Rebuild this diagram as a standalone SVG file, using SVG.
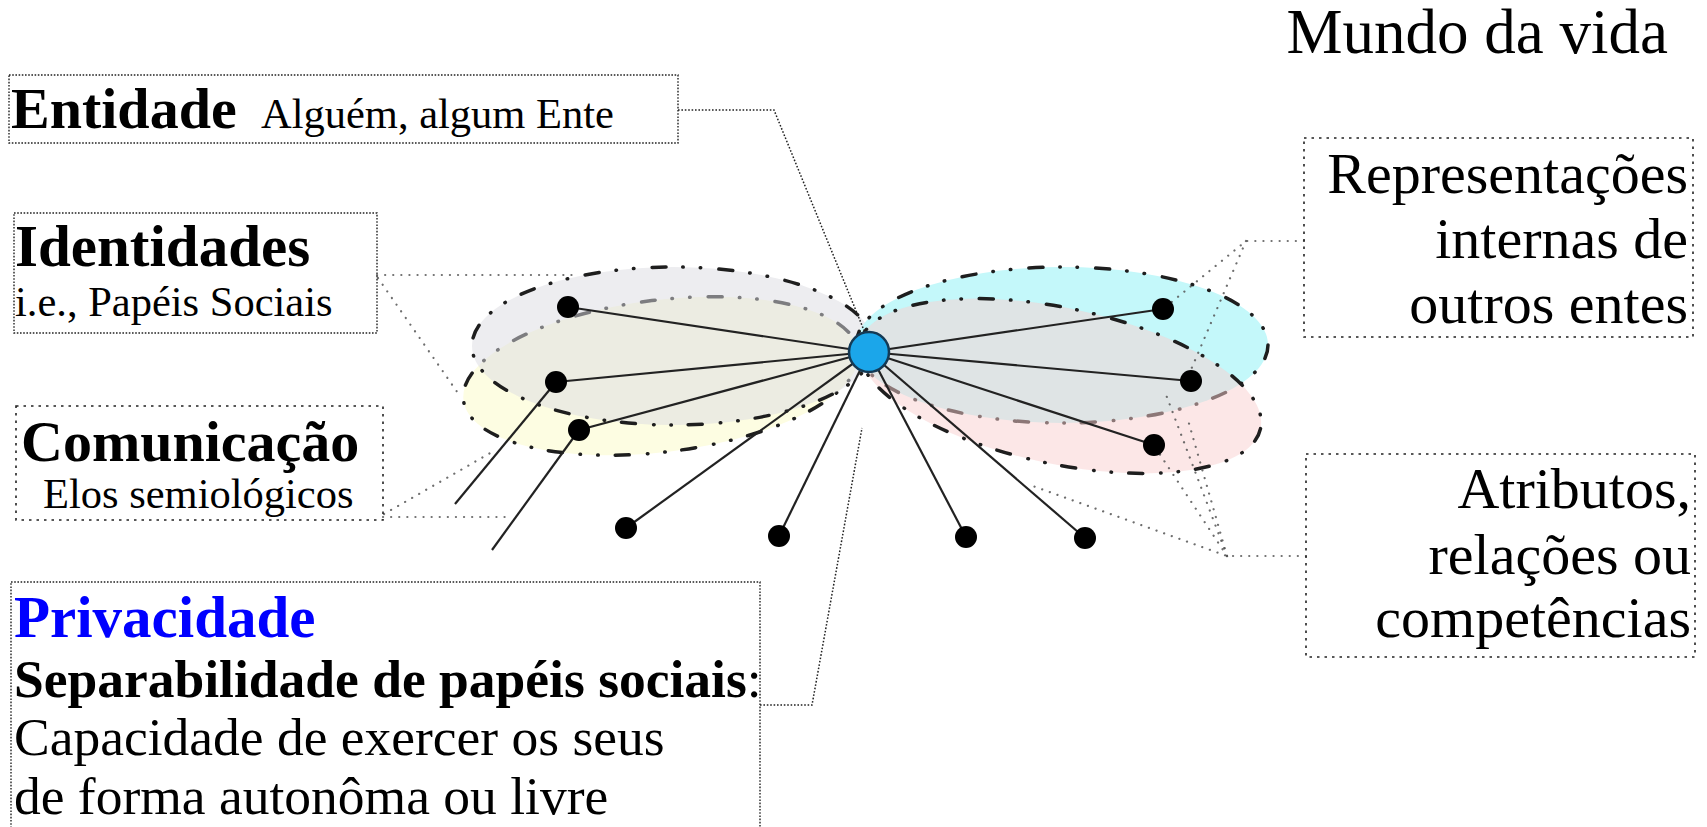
<svg xmlns="http://www.w3.org/2000/svg" width="1707" height="827" viewBox="0 0 1707 827">
  <style>
    text { font-family: "Liberation Serif", "Times New Roman", serif; fill: #000; }
    .b { font-weight: bold; }
    .t58 { font-size: 58px; }
    .t42 { font-size: 42.5px; }
    .t53 { font-size: 53.5px; }
    .box-fine { fill: none; stroke: #222; stroke-width: 1.4; stroke-dasharray: 1.6 1.6; }
    .box-wide { fill: none; stroke: #222; stroke-width: 1.6; stroke-dasharray: 2.5 5; }
    .lead-fine { fill: none; stroke: #222; stroke-width: 1.5; stroke-dasharray: 1.6 1.8; }
    .lead-soft { fill: none; stroke: #555; stroke-width: 2.2; stroke-dasharray: 0.1 8; stroke-linecap: round; opacity: 0.85; }
    .ring { stroke: #1e1e1e; stroke-width: 3.5; stroke-dasharray: 14 17 0.5 17 0.5 18; stroke-linecap: round; }
    .link { stroke: #222; stroke-width: 2.2; fill: none; }
    .dot { fill: #000; }
  </style>

  <!-- role ellipses -->
  <g id="ellipses">
    <ellipse id="ring-yellow" class="ring" cx="661" cy="376" rx="199" ry="76" transform="rotate(-7 661 376)" fill="#fdfde2"/>
    <ellipse id="ring-gray" class="ring" cx="673" cy="346" rx="201" ry="79" fill="rgb(220,220,226)" fill-opacity="0.5"/>
    <ellipse id="ring-cyan" class="ring" cx="1062" cy="345" rx="206" ry="78" fill="#c4f8fa"/>
    <ellipse id="ring-pink" class="ring" cx="1060" cy="386" rx="205" ry="78" transform="rotate(12 1060 386)" fill="rgb(250,208,208)" fill-opacity="0.5"/>
  </g>

  <!-- leader lines from the labels -->
  <g id="connectors">
    <polyline class="lead-fine" points="678,110 774,110 870,345"/>
    <polyline class="lead-fine" points="760,705 812,705 862,428"/>
    <polyline class="lead-soft" points="377,275 572,275"/>
    <polyline class="lead-soft" points="378,278 460,396"/>
    <polyline class="lead-soft" points="383,517 510,517"/>
    <polyline class="lead-soft" points="384,514 492,452"/>
    <polyline class="lead-soft" points="1304,241 1246,241 1168,305"/>
    <polyline class="lead-soft" points="1246,241 1190,372"/>
    <polyline class="lead-soft" points="1306,556 1227,556 1030,485"/>
    <polyline class="lead-soft" points="1227,556 1157,450"/>
    <polyline class="lead-soft" points="1227,556 1165,392"/>
    <polyline class="lead-soft" points="1227,556 1188,420"/>

    <!-- links from the entity to its roles -->
    <g id="links">
      <line class="link" x1="869" y1="352" x2="568" y2="307"/>
      <line class="link" x1="869" y1="352" x2="556" y2="382"/>
      <line class="link" x1="869" y1="352" x2="579" y2="430"/>
      <line class="link" x1="869" y1="352" x2="626" y2="528"/>
      <line class="link" x1="869" y1="352" x2="779" y2="536"/>
      <line class="link" x1="869" y1="352" x2="966" y2="537"/>
      <line class="link" x1="869" y1="352" x2="1085" y2="538"/>
      <line class="link" x1="869" y1="352" x2="1163" y2="309"/>
      <line class="link" x1="869" y1="352" x2="1191" y2="381"/>
      <line class="link" x1="869" y1="352" x2="1154" y2="445"/>
      <line class="link" x1="556" y1="382" x2="455" y2="504"/>
      <line class="link" x1="579" y1="430" x2="492" y2="550"/>
    </g>
  </g>

  <!-- role nodes -->
  <g id="nodes">
    <circle class="dot" cx="568" cy="307" r="11"/>
    <circle class="dot" cx="556" cy="382" r="11"/>
    <circle class="dot" cx="579" cy="430" r="11"/>
    <circle class="dot" cx="626" cy="528" r="11"/>
    <circle class="dot" cx="779" cy="536" r="11"/>
    <circle class="dot" cx="966" cy="537" r="11"/>
    <circle class="dot" cx="1085" cy="538" r="11"/>
    <circle class="dot" cx="1163" cy="309" r="11"/>
    <circle class="dot" cx="1191" cy="381" r="11"/>
    <circle class="dot" cx="1154" cy="445" r="11"/>
  </g>

  <!-- the entity -->
  <g id="entity-node">
    <circle cx="869" cy="352" r="20" fill="#1ba6ea" stroke="#143a55" stroke-width="2.5"/>
  </g>

  <g id="title">
    <text x="1668" y="53" font-size="63" text-anchor="end">Mundo da vida</text>
  </g>

  <g id="entidade">
    <rect class="box-fine" x="9" y="75" width="669" height="68"/>
    <text x="11" y="128" class="b" font-size="58">Entidade</text>
    <text x="261" y="128" class="t42">Alguém, algum Ente</text>
  </g>

  <g id="identidades">
    <rect class="box-fine" x="14" y="213" width="363" height="120"/>
    <text x="15" y="266" class="b" font-size="59">Identidades</text>
    <text x="15" y="316" class="t42">i.e., Papéis Sociais</text>
  </g>

  <g id="comunicacao">
    <rect class="box-wide" x="16" y="406" width="367" height="114"/>
    <text x="21" y="461" class="b t58">Comunicação</text>
    <text x="43" y="508" class="t42">Elos semiológicos</text>
  </g>

  <g id="privacidade">
    <rect class="box-fine" x="11" y="582" width="749" height="270"/>
    <text x="14" y="637" class="b" font-size="59" style="fill:#0000ff">Privacidade</text>
    <text x="14" y="697" class="t53"><tspan class="b">Separabilidade de papéis sociais</tspan>:</text>
    <text x="14" y="755" class="t53">Capacidade de exercer os seus</text>
    <text x="14" y="814" class="t53">de forma autonôma ou livre</text>
  </g>

  <g id="representacoes">
    <rect class="box-wide" x="1304" y="138" width="389" height="199"/>
    <text x="1688" y="193" class="t58" text-anchor="end">Representações</text>
    <text x="1688" y="258" class="t58" text-anchor="end">internas de</text>
    <text x="1688" y="323" class="t58" text-anchor="end">outros entes</text>
  </g>

  <g id="atributos">
    <rect class="box-wide" x="1306" y="454" width="389" height="203"/>
    <text x="1691" y="508" class="t58" text-anchor="end">Atributos,</text>
    <text x="1691" y="574" class="t58" text-anchor="end">relações ou</text>
    <text x="1691" y="637" class="t58" text-anchor="end">competências</text>
  </g>
</svg>
